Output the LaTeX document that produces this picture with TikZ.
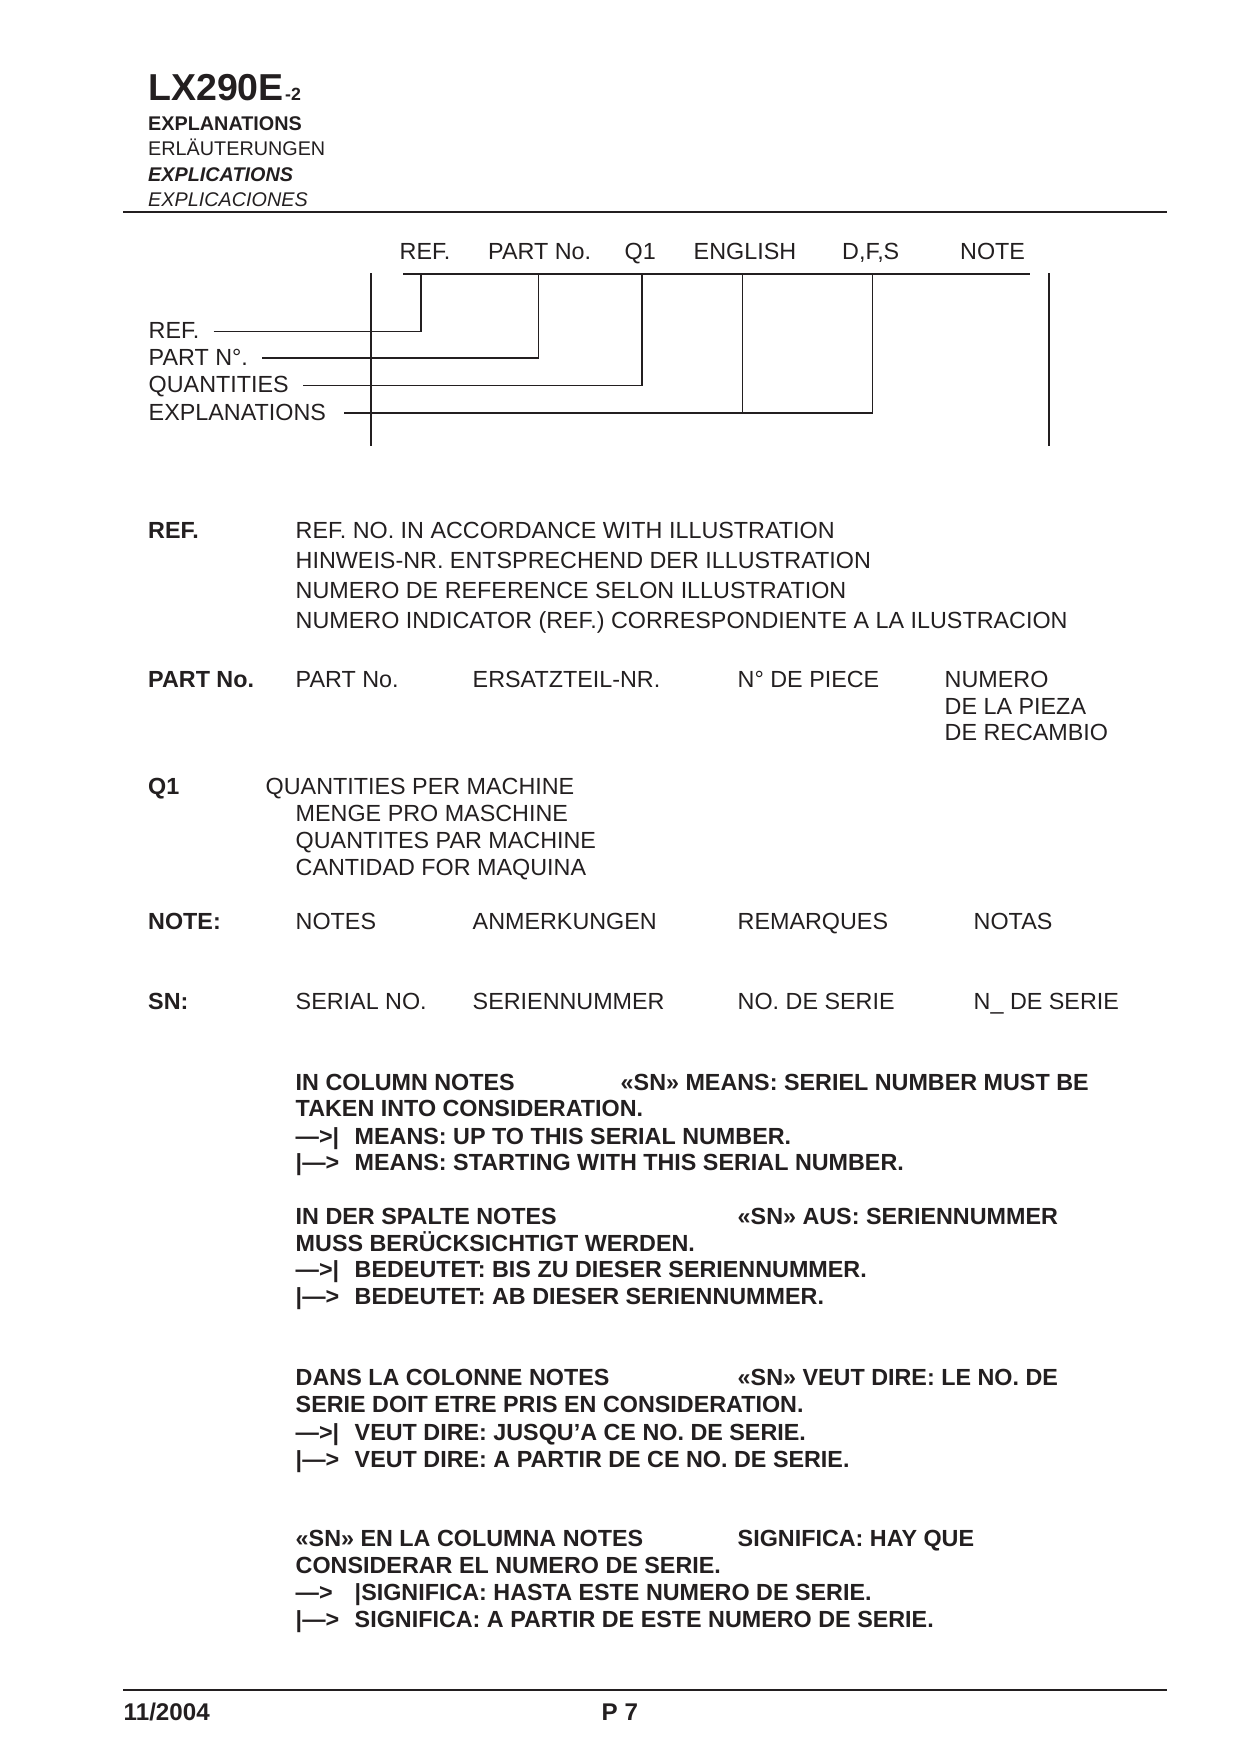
\documentclass[tikz,border=0pt]{standalone}
\usepackage{fontspec}
\setmainfont{Liberation Sans}
\usetikzlibrary{positioning}
\definecolor{ink}{RGB}{35,31,32}

\begin{document}
\begin{tikzpicture}[
    x=0.48pt, y=-0.48pt, draw=ink, line width=0.7pt,
    txt/.style={anchor=base west, inner sep=0pt, text=ink, font=\fontsize{11.2}{13}\selectfont},
    hd/.style={txt, font=\fontsize{11.2}{13}\selectfont\bfseries},
    small/.style={txt, font=\fontsize{9.5}{11}\selectfont},
    rule/.style={line width=1.1pt}
]
    \useasboundingbox (0,0) rectangle (1240,1755);

    % page head
    \node[txt, font=\fontsize{18}{20}\selectfont\bfseries] (title) at (147.5,100) {LX290E};
    \node[txt, font=\fontsize{8.5}{10}\selectfont\bfseries] (titlesub) at (title.base east) {-2};
    \node[small, font=\fontsize{9.5}{11}\selectfont\bfseries] (hen) at (147.5,130.5) {EXPLANATIONS};
    \node[small] (hde) at (147.5,155.5) {ERLÄUTERUNGEN};
    \node[small, font=\fontsize{9.5}{11}\selectfont\bfseries\itshape] (hfr) at (147.5,181) {EXPLICATIONS};
    \node[small, font=\fontsize{9.5}{11}\selectfont\itshape] (hes) at (147.5,206) {EXPLICACIONES};
    \draw[rule] (123,212) -- (1167,212);

    % column diagram
    \foreach \name/\x/\lbl in {cref/399/REF., cpart/487.5/PART No., cq/624/Q1,
        ceng/693/ENGLISH, cdfs/841.5/{D,F,S}, cnote/959.5/NOTE}
        \node[txt] (\name) at (\x,259.3) {\lbl};
    \coordinate (jref) at (421,274);
    \coordinate (jpart) at (538.5,274);
    \coordinate (jq) at (642,274);
    \coordinate (jeng) at (742.5,274);
    \coordinate (jdfs) at (872.5,274);
    \draw (403,274) -- (1030,274);
    \draw (371,273) -- (371,446);
    \draw (1049,273) -- (1049,446);

    \node[txt] (lref) at (148,338.3) {REF.};
    \node[txt] (lpart) at (148,365) {PART N°.};
    \node[txt] (lqty) at (148,392.5) {QUANTITIES};
    \node[txt] (lexp) at (148,420) {EXPLANATIONS};
    \foreach \l/\g in {lref/6.5pt, lpart/6.5pt, lqty/6.5pt, lexp/8.5pt}
        \coordinate (a\l) at ([shift={(\g,3.4pt)}]\l.base east);
    \foreach \l/\j in {lref/jref, lpart/jpart, lqty/jq, lexp/jdfs}
        \draw (a\l) -| (\j);
    \draw (jeng) -- (jeng |- alexp);

    % REF.
    \node[hd] (kref) at (147.5,538.8) {REF.};
    \foreach \i/\y/\t in {1/538.8/{REF. NO. IN ACCORDANCE WITH ILLUSTRATION},
        2/568.5/{HINWEIS-NR. ENTSPRECHEND DER ILLUSTRATION},
        3/598/{NUMERO DE REFERENCE SELON ILLUSTRATION},
        4/628/{NUMERO INDICATOR (REF.) CORRESPONDIENTE A LA ILUSTRACION}}
        \node[txt] (ref\i) at (295,\y) {\t};

    % PART No.
    \node[hd] (kpart) at (147.5,687) {PART No.};
    \node[txt] (part1) at (295,687) {PART No.};
    \node[txt] (part2) at (472,687) {ERSATZTEIL-NR.};
    \node[txt] (part3) at (737,687) {N° DE PIECE};
    \node[txt] (part4) at (944,687) {NUMERO};
    \node[txt] (part5) at (944,714) {DE LA PIEZA};
    \node[txt] (part6) at (944,740.7) {DE RECAMBIO};

    % Q1
    \node[hd] (kq) at (147.5,794) {Q1};
    \node[txt] (q1) at (265,794) {QUANTITIES PER MACHINE};
    \node[txt] (q2) at (295,821.7) {MENGE PRO MASCHINE};
    \node[txt] (q3) at (295,848.3) {QUANTITES PAR MACHINE};
    \node[txt] (q4) at (295,875) {CANTIDAD FOR MAQUINA};

    % NOTE: and SN:
    \node[hd] (knote) at (147.5,929) {NOTE:};
    \foreach \i/\x/\t in {1/295/NOTES, 2/472/ANMERKUNGEN, 3/737/REMARQUES, 4/973/NOTAS}
        \node[txt] (note\i) at (\x,929) {\t};
    \node[hd] (ksn) at (147.5,1009.3) {SN:};
    \foreach \i/\x/\t in {1/295/SERIAL NO., 2/472/SERIENNUMMER, 3/737/NO. DE SERIE, 4/973/N\_ DE SERIE}
        \node[txt] (sn\i) at (\x,1009.3) {\t};

    % serial number notes
    \node[hd] (en1) at (295,1090) {IN COLUMN NOTES};
    \node[hd] (en2) at (620,1090) {«SN» MEANS: SERIEL NUMBER MUST BE};
    \node[hd] (en3) at (295,1116.7) {TAKEN INTO CONSIDERATION.};
    \node[hd] (en4) at (295,1144) {—>|};
    \node[hd] (en5) at (354,1144) {MEANS: UP TO THIS SERIAL NUMBER.};
    \node[hd] (en6) at (295,1170.7) {|—>};
    \node[hd] (en7) at (354,1170.7) {MEANS: STARTING WITH THIS SERIAL NUMBER.};

    \node[hd] (de1) at (295,1224.3) {IN DER SPALTE NOTES};
    \node[hd] (de2) at (737,1224.3) {«SN» AUS: SERIENNUMMER};
    \node[hd] (de3) at (295,1251) {MUSS BERÜCKSICHTIGT WERDEN.};
    \node[hd] (de4) at (295,1277.7) {—>|};
    \node[hd] (de5) at (354,1277.7) {BEDEUTET: BIS ZU DIESER SERIENNUMMER.};
    \node[hd] (de6) at (295,1304.3) {|—>};
    \node[hd] (de7) at (354,1304.3) {BEDEUTET: AB DIESER SERIENNUMMER.};

    \node[hd] (fr1) at (295,1385) {DANS LA COLONNE NOTES};
    \node[hd] (fr2) at (737,1385) {«SN» VEUT DIRE: LE NO. DE};
    \node[hd] (fr3) at (295,1412.7) {SERIE DOIT ETRE PRIS EN CONSIDERATION.};
    \node[hd] (fr4) at (295,1440) {—>|};
    \node[hd] (fr5) at (354,1440) {VEUT DIRE: JUSQU’A CE NO. DE SERIE.};
    \node[hd] (fr6) at (295,1467.7) {|—>};
    \node[hd] (fr7) at (354,1467.7) {VEUT DIRE: A PARTIR DE CE NO. DE SERIE.};

    \node[hd] (es1) at (295,1546.7) {«SN» EN LA COLUMNA NOTES};
    \node[hd] (es2) at (737,1546.7) {SIGNIFICA: HAY QUE};
    \node[hd] (es3) at (295,1573.3) {CONSIDERAR EL NUMERO DE SERIE.};
    \node[hd] (es4) at (295,1600.7) {—>};
    \node[hd] (es5) at (354,1600.7) {|SIGNIFICA: HASTA ESTE NUMERO DE SERIE.};
    \node[hd] (es6) at (295,1627.3) {|—>};
    \node[hd] (es7) at (354,1627.3) {SIGNIFICA: A PARTIR DE ESTE NUMERO DE SERIE.};

    % page foot
    \draw[rule] (123,1690) -- (1167,1690);
    \node[hd, font=\fontsize{11.6}{13}\selectfont\bfseries] (date) at (123,1720.7) {11/2004};
    \node[hd, font=\fontsize{11.6}{13}\selectfont\bfseries] (page) at (601,1720.7) {P 7};

\end{tikzpicture}
\end{document}
